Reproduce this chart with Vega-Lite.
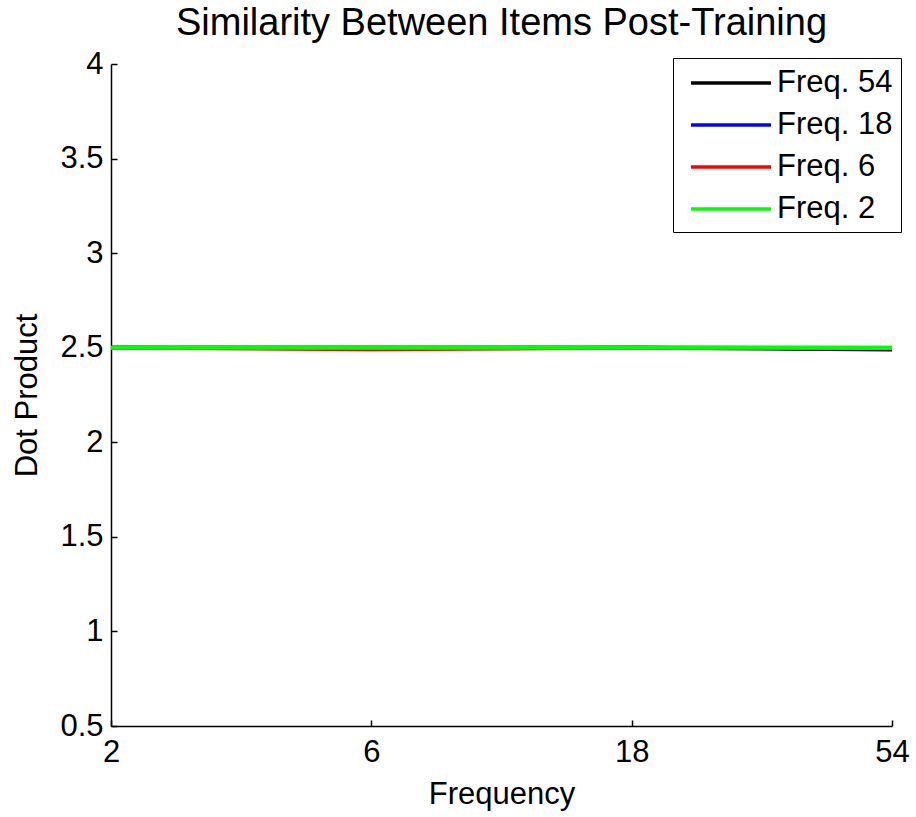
{
  "$schema": "https://vega.github.io/schema/vega-lite/v6.json",
  "width": 781,
  "height": 662,
  "autosize": {"type": "none"},
  "padding": {"left": 111, "top": 64, "right": 24, "bottom": 91},
  "background": "white",
  "title": {
    "text": "Similarity Between Items Post-Training",
    "fontSize": 38,
    "font": "Liberation Sans",
    "fontWeight": "normal",
    "color": "black",
    "anchor": "middle",
    "offset": 5
  },
  "data": {
    "values": [
      {"series": "Freq. 54", "frequency": 2, "dot": 2.5},
      {"series": "Freq. 54", "frequency": 6, "dot": 2.5},
      {"series": "Freq. 54", "frequency": 18, "dot": 2.5},
      {"series": "Freq. 54", "frequency": 54, "dot": 2.491},
      {"series": "Freq. 18", "frequency": 2, "dot": 2.5},
      {"series": "Freq. 18", "frequency": 6, "dot": 2.5},
      {"series": "Freq. 18", "frequency": 18, "dot": 2.5},
      {"series": "Freq. 18", "frequency": 54, "dot": 2.497},
      {"series": "Freq. 6", "frequency": 2, "dot": 2.5},
      {"series": "Freq. 6", "frequency": 6, "dot": 2.492},
      {"series": "Freq. 6", "frequency": 18, "dot": 2.5},
      {"series": "Freq. 6", "frequency": 54, "dot": 2.5},
      {"series": "Freq. 2", "frequency": 2, "dot": 2.5},
      {"series": "Freq. 2", "frequency": 6, "dot": 2.5},
      {"series": "Freq. 2", "frequency": 18, "dot": 2.5},
      {"series": "Freq. 2", "frequency": 54, "dot": 2.499}
    ]
  },
  "mark": {"type": "line", "strokeWidth": 4},
  "encoding": {
    "x": {
      "field": "frequency",
      "type": "quantitative",
      "scale": {"type": "log", "domain": [2, 54], "nice": false},
      "axis": {
        "values": [2, 6, 18, 54],
        "format": "d",
        "title": "Frequency",
        "tickSize": -6,
        "labelFlush": false,
        "labelPadding": 17,
        "titlePadding": 12
      }
    },
    "y": {
      "field": "dot",
      "type": "quantitative",
      "scale": {"domain": [0.5, 4], "nice": false, "zero": false},
      "axis": {
        "values": [0.5, 1, 1.5, 2, 2.5, 3, 3.5, 4],
        "format": "~g",
        "title": "Dot Product",
        "tickSize": -6,
        "labelFlush": false,
        "labelPadding": 14,
        "titlePadding": 16
      }
    },
    "color": {
      "field": "series",
      "type": "nominal",
      "scale": {
        "domain": ["Freq. 54", "Freq. 18", "Freq. 6", "Freq. 2"],
        "range": ["#000000", "#0000ff", "#ff0000", "#00ff00"]
      },
      "legend": {
        "orient": "none",
        "legendX": 562,
        "legendY": -6,
        "title": null,
        "strokeColor": "black",
        "fillColor": "white",
        "padding": 8,
        "symbolType": "M-2.667,0H2.667",
        "symbolSize": 900,
        "symbolOffset": 33,
        "symbolStrokeWidth": 3.5,
        "labelFontSize": 31,
        "labelFont": "Liberation Sans",
        "labelColor": "black",
        "labelOffset": 29,
        "labelExpr": "datum.label + ' '",
        "rowPadding": 10
      }
    }
  },
  "config": {
    "view": {"stroke": null},
    "axis": {
      "grid": false,
      "domainColor": "black",
      "domainWidth": 1.5,
      "tickColor": "black",
      "tickWidth": 1.5,
      "labelFont": "Liberation Sans",
      "labelFontSize": 31,
      "labelColor": "black",
      "titleFont": "Liberation Sans",
      "titleFontSize": 31,
      "titleFontWeight": "normal",
      "titleColor": "black"
    }
  }
}
